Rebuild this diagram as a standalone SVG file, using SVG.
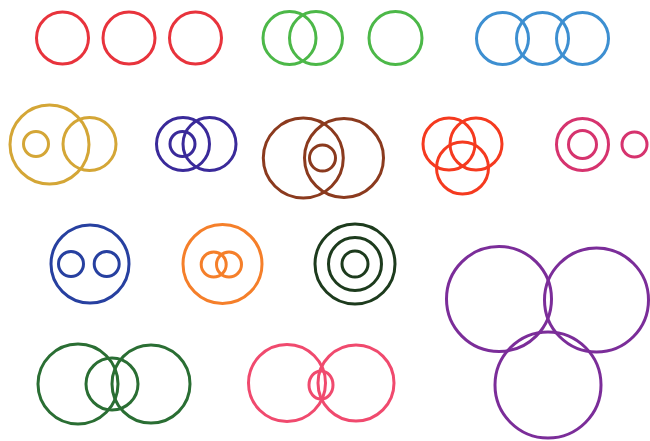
<svg xmlns="http://www.w3.org/2000/svg" width="650" height="441" viewBox="0 0 650 441">
<style>
circle, ellipse { fill: none; stroke-width: 3; }
.red { stroke: #e8333c; }
.green { stroke: #4cb848; }
.blue { stroke: #3d8fd1; }
.gold { stroke: #d4a636; }
.indigo { stroke: #3a2a9a; }
.brown { stroke: #8b3a1e; }
.redor { stroke: #f53a1f; }
.magenta { stroke: #d6336e; }
.royal { stroke: #2740a0; }
.orange { stroke: #f57f2a; }
.dkgreen { stroke: #1d3b1d; }
.purple { stroke: #7b2d99; }
.green2 { stroke: #2a6e33; }
.rose { stroke: #f04a6e; }
</style>
<rect width="650" height="441" fill="#ffffff"/>
<g id="red-three" class="red">
<circle cx="62.5" cy="38" r="26"/>
<circle cx="129" cy="38" r="26"/>
<circle cx="195.5" cy="38" r="26"/>
</g>
<g id="green-pair" class="green">
<circle cx="289.5" cy="38" r="26.5"/>
<circle cx="316" cy="38" r="26.5"/>
<circle cx="395.5" cy="38" r="26.5"/>
</g>
<g id="blue-chain" class="blue">
<circle cx="502.5" cy="38.5" r="26"/>
<circle cx="542.5" cy="38.5" r="26"/>
<circle cx="582.5" cy="38.5" r="26"/>
</g>
<g id="gold" class="gold">
<circle cx="49.5" cy="144.5" r="39.5"/>
<circle cx="36" cy="144" r="12.5"/>
<circle cx="89.5" cy="144" r="26.5"/>
</g>
<g id="indigo" class="indigo">
<circle cx="183" cy="144" r="26.5"/>
<circle cx="209.5" cy="144" r="26.5"/>
<circle cx="182.5" cy="144" r="12.5"/>
</g>
<g id="brown" class="brown">
<circle cx="303.3" cy="158" r="40"/>
<circle cx="344" cy="158" r="39.5"/>
<circle cx="322.5" cy="158" r="13"/>
</g>
<g id="red-orange" class="redor">
<circle cx="449" cy="144" r="26"/>
<circle cx="476" cy="144" r="26"/>
<circle cx="462.5" cy="168" r="26"/>
</g>
<g id="magenta" class="magenta">
<circle cx="582.5" cy="144.5" r="26"/>
<circle cx="582.5" cy="144.5" r="14"/>
<circle cx="634.5" cy="144.5" r="12.5"/>
</g>
<g id="royal-blue" class="royal">
<circle cx="90" cy="264" r="39"/>
<circle cx="71" cy="264" r="12.5"/>
<circle cx="106.7" cy="264" r="12.5"/>
</g>
<g id="orange" class="orange">
<circle cx="222.5" cy="264" r="39.5"/>
<circle cx="213.7" cy="264.5" r="12.5"/>
<circle cx="229" cy="264.5" r="12.5"/>
</g>
<g id="dark-green-rings" class="dkgreen">
<circle cx="355" cy="264" r="40"/>
<circle cx="355" cy="264" r="26.5"/>
<circle cx="355" cy="264" r="13"/>
</g>
<g id="purple" class="purple">
<circle cx="499" cy="299" r="52.5"/>
<circle cx="596.5" cy="300" r="52"/>
<circle cx="548" cy="385" r="53"/>
</g>
<g id="green-bottom" class="green2">
<circle cx="78" cy="384" r="40"/>
<circle cx="112" cy="384" r="26"/>
<circle cx="151" cy="384" r="39"/>
</g>
<g id="rose" class="rose">
<circle cx="287" cy="383" r="38.5"/>
<circle cx="356" cy="383" r="38"/>
<ellipse cx="321" cy="385" rx="12" ry="14"/>
</g>
</svg>
